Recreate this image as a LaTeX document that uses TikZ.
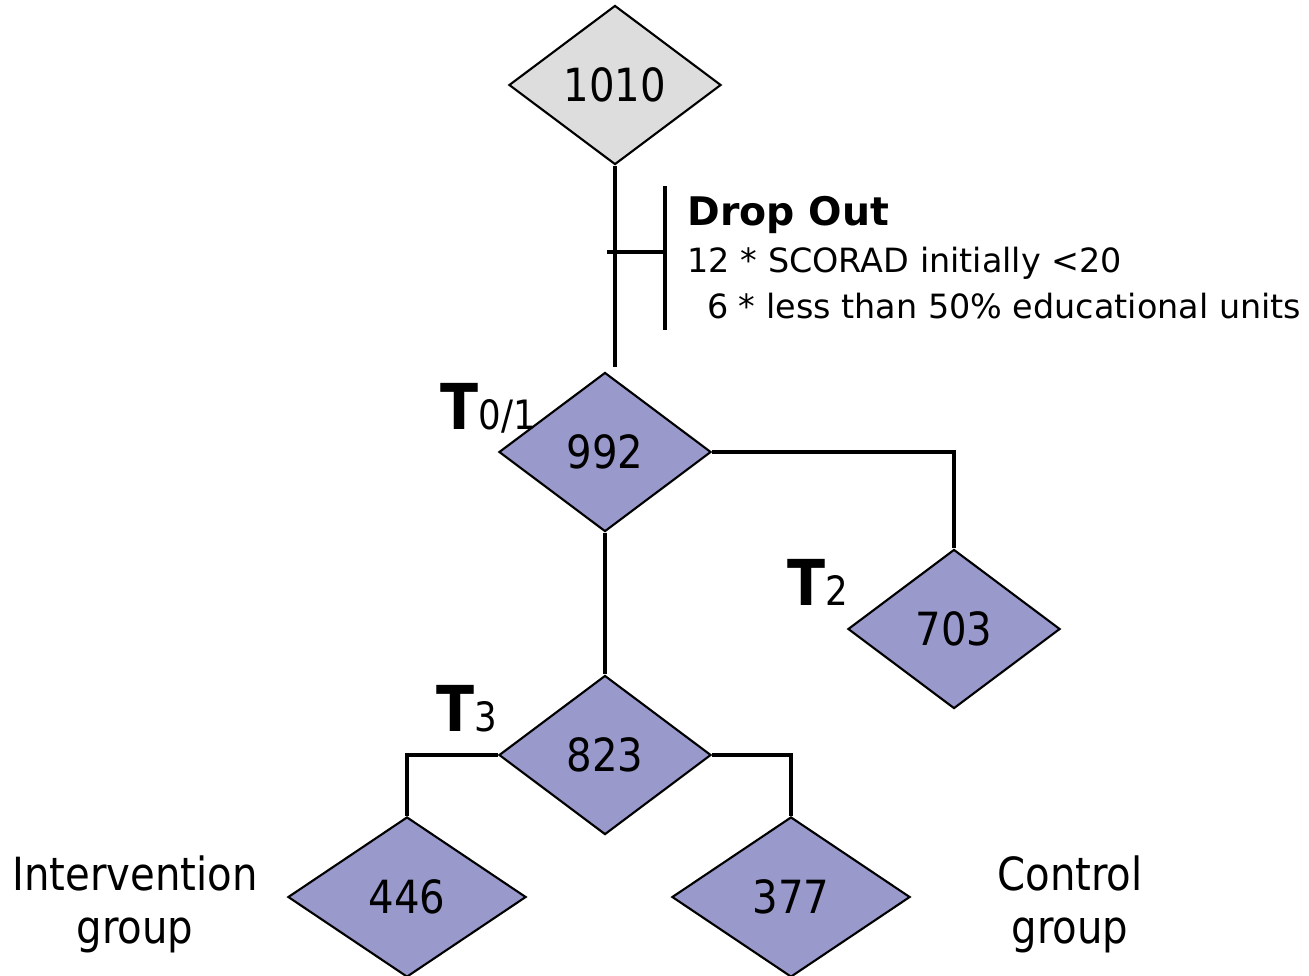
\documentclass[tikz,border=0pt]{standalone}
\usepackage{fontspec}
\setmainfont{DejaVu Sans}[FakeStretch=0.88]
\newfontfamily\wideface{DejaVu Sans}
\usetikzlibrary{shapes.geometric}

\definecolor{startgray}{RGB}{221,221,221}
\definecolor{stagepurple}{RGB}{153,153,204}

\begin{document}
\begin{tikzpicture}[x=0.01cm,y=-0.01cm,
   stage/.style={diamond,draw,line width=0.6pt,fill=stagepurple,inner sep=0pt,
      minimum width=2.12cm,minimum height=1.59cm,font=\fontsize{13}{15}\selectfont},
   group/.style={stage,minimum width=2.38cm,minimum height=1.6cm},
   link/.style={line width=1.1pt},
   tlabel/.style={anchor=base west,inner sep=0pt},
   side/.style={anchor=north,inner sep=0pt,align=center,font=\fontsize{13}{15}\selectfont}]
   \useasboundingbox (0,0) rectangle (1309,975);
   % stages
   \node[stage,fill=startgray] (n1010) at (615,85) {1010};
   \node[stage] (n992) at (605,452) {992};
   \node[stage] (n703) at (954,629) {703};
   \node[stage] (n823) at (605,755) {823};
   \node[group] (n446) at (407,897) {446};
   \node[group] (n377) at (791,897) {377};
   % time points
   \node[tlabel] (t01) at (440,429) {{\bfseries\fontsize{18}{20}\selectfont T}{\fontsize{11.5}{13}\selectfont 0/1}};
   \node[tlabel] (t2) at (787,605) {{\bfseries\fontsize{18}{20}\selectfont T}{\fontsize{11.5}{13}\selectfont 2}};
   \node[tlabel] (t3) at (436,731) {{\bfseries\fontsize{18}{20}\selectfont T}{\fontsize{11.5}{13}\selectfont 3}};
   % drop out
   \coordinate (gap) at (615,367);
   \coordinate (tick) at (607,252);
   \coordinate (bartop) at (665,186);
   \coordinate (barbot) at (665,330);
   \node[anchor=north west,inner sep=0pt,align=left,font=\wideface\fontsize{9.5}{13.1}\selectfont] (drop) at (687,196)
      {{\bfseries\fontsize{11.2}{13.1}\selectfont Drop Out}\\
       12 * SCORAD initially <20\\
       \hspace{5.5pt}6 * less than 50\% educational units};
   \draw[link] (n1010.south) -- (gap);
   \draw[link] (bartop) -- (barbot);
   \draw[link] (tick) -- (tick -| bartop);
   % branches
   \draw[link] (n992.east) -| (n703.north);
   \draw[link] (n992.south) -- (n823.north);
   \draw[link] (n823.west) -| (n446.north);
   \draw[link] (n823.east) -| (n377.north);
   % groups
   \node[side] (interv) at (135,855) {Intervention\\group};
   \node[side] (control) at (1070,855) {Control\\group};
\end{tikzpicture}
\end{document}
